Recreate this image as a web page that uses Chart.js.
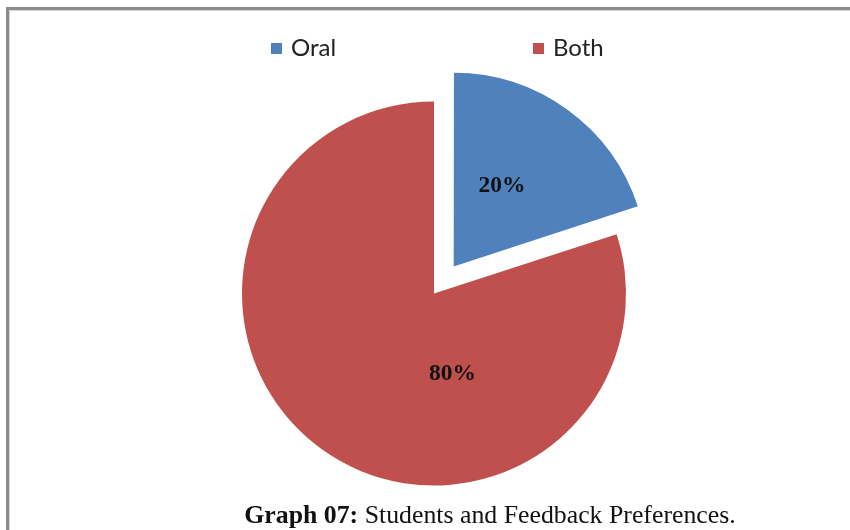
<!DOCTYPE html>
<html>
<head>
<meta charset="utf-8">
<script src="https://cdn.jsdelivr.net/npm/chart.js@4/dist/chart.umd.min.js"></script>
<style>
body{margin:0;background:#fff;}
#wrap{position:relative;width:850px;height:530px;overflow:hidden;background:#fff;}
#frame{position:absolute;left:6px;top:7px;width:900px;height:600px;border-top:3px solid #8c8c8c;border-left:3px solid #8c8c8c;box-shadow:inset 1px 1px 0 #d4d4d4;}
#pie{position:absolute;left:0;top:0;}
#caption{position:absolute;left:0;width:980px;top:502px;text-align:center;font-family:"Liberation Serif","Times New Roman",serif;font-size:25.8px;line-height:25px;color:#111;white-space:nowrap;}
</style>
</head>
<body>
<div id="wrap">
<div id="frame"></div>
<canvas id="pie" width="850" height="530"></canvas>
<div id="caption"><b>Graph 07:</b> Students and Feedback Preferences.</div>
</div>
<script>
/* =====================================================
DATA
===================================================== */

const categories=["Oral","Both"]
const shares=[20,80]
const sliceColors=["#4F81BD","#C0504D"]


/* =====================================================
LEGEND + PERCENT LABELS
===================================================== */

const legendPlugin={
id:"topLegend",
afterDraw(chart,args,opts){
const ctx=chart.ctx
ctx.save()
ctx.font="24px Lato"
ctx.textBaseline="middle"
categories.forEach((c,i)=>{
const x=opts.xs[i]
ctx.fillStyle=sliceColors[i]
ctx.fillRect(x,43,11,11)
ctx.fillStyle="#222"
ctx.fillText(c,x+20,48.5)
})
ctx.restore()
}
}

const labelPlugin={
id:"pctLabels",
afterDatasetsDraw(chart,args,opts){
const ctx=chart.ctx
const meta=chart.getDatasetMeta(0)
const total=shares.reduce((a,b)=>a+b,0)
ctx.save()
ctx.font="bold 23.5px 'Liberation Serif'"
ctx.fillStyle="#111"
ctx.textAlign="center"
ctx.textBaseline="middle"
meta.data.forEach((arc,i)=>{
const p=arc.getProps(["x","y","startAngle","endAngle","outerRadius","circumference"],true)
const half=(p.startAngle+p.endAngle)/2
const off=(arc.options.offset||0)/4
const fix=1-Math.sin(Math.min(Math.PI,p.circumference||0))
const shift=off*(1+fix)
const vx=p.x+Math.cos(half)*shift
const vy=p.y+Math.sin(half)*shift
const pos=opts.pos[i]
const a=half+pos.angle*Math.PI/180
const lx=vx+Math.cos(a)*pos.r*p.outerRadius
const ly=vy+Math.sin(a)*pos.r*p.outerRadius
ctx.fillText(Math.round(shares[i]/total*100)+"%",lx,ly)
})
ctx.restore()
}
}


/* =====================================================
PIE
===================================================== */

new Chart(document.getElementById("pie"),{
type:"pie",
data:{
labels:categories,
datasets:[{
data:shares,
backgroundColor:sliceColors,
borderWidth:0,
offset:[134,0],
hoverOffset:0
}]
},
options:{
responsive:false,
animation:false,
radius:192,
layout:{padding:{left:30,right:12,top:67,bottom:10}},
events:[],
plugins:{
legend:{display:false},
tooltip:{enabled:false},
topLegend:{xs:[271,533]},
pctLabels:{pos:[{angle:-5,r:0.48},{angle:-49,r:0.43}]}
}
},
plugins:[legendPlugin,labelPlugin]
})
</script>
</body>
</html>
